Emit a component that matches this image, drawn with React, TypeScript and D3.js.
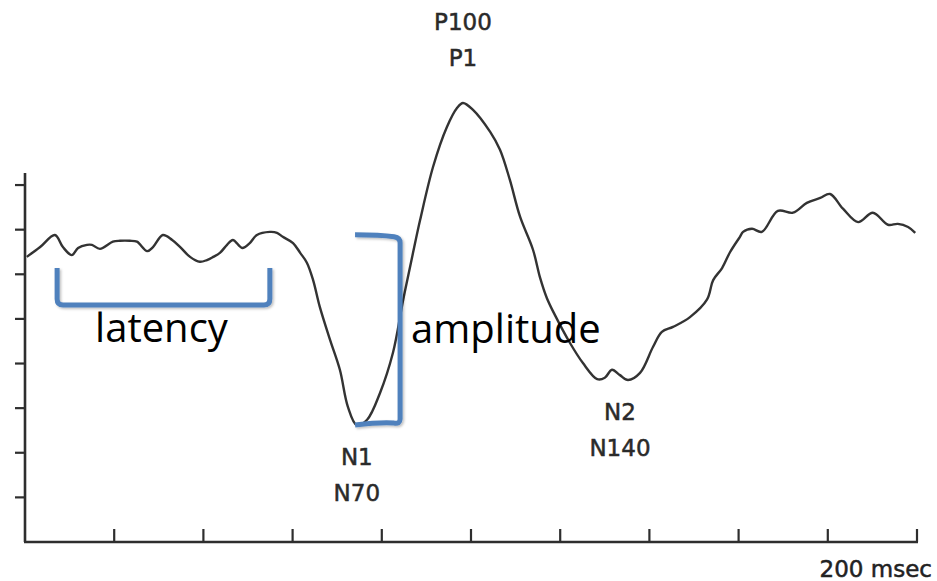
import React, { useCallback, useEffect, useRef } from 'react';
import * as d3 from 'd3';

// trace: time in msec, amplitude in arbitrary units
const timeMs = [
  0.4, 3.4, 6.7, 8.5, 10.5, 11.9, 13.9, 15.0, 16.8, 19.7, 21.3, 23.5, 25.1, 27.4, 28.7, 30.9,
  33.0, 34.8, 37.0, 39.2, 40.8, 42.2, 43.7, 45.3, 46.6, 48.7, 50.4, 52.0, 54.9, 56.5, 57.8,
  60.1, 61.7, 63.2, 64.6, 66.1, 68.4, 70.6, 72.4, 74.4, 76.7, 79.6, 82.5, 84.8, 87.0, 88.6,
  91.5, 94.6, 96.9, 98.2, 100.4, 104.3, 106.5, 108.7, 111.0, 113.9, 115.5, 117.0, 118.8,
  122.2, 125.1, 128.3, 130.0, 131.6, 133.4, 135.2, 137.9, 140.8, 142.8, 145.3, 149.1, 152.9,
  154.3, 156.3, 158.1, 160.3, 161.0, 163.0, 165.2, 168.8, 172.2, 175.3, 178.3, 180.5, 183.4,
  186.8, 190.1, 193.5, 195.7, 198.0, 199.6,
];
const amplitude = [
  6.39, 6.61, 6.88, 6.61, 6.43, 6.59, 6.66, 6.66, 6.57, 6.73, 6.75, 6.75, 6.73, 6.52, 6.61, 6.88,
  6.77, 6.61, 6.39, 6.28, 6.32, 6.39, 6.48, 6.66, 6.77, 6.59, 6.70, 6.88, 6.95, 6.93, 6.84,
  6.70, 6.48, 6.26, 5.87, 5.27, 4.53, 3.86, 3.03, 2.62, 2.74, 3.34, 4.24, 5.43, 6.48, 7.22,
  8.41, 9.30, 9.73, 9.84, 9.69, 9.19, 8.79, 8.12, 7.29, 6.55, 5.92, 5.47, 5.09,
  4.46, 4.01, 3.65, 3.68, 3.86, 3.74, 3.63, 3.79, 4.37, 4.71, 4.82, 5.04, 5.43,
  5.87, 6.14, 6.50, 6.84, 6.95, 7.02, 6.95, 7.42, 7.38, 7.60, 7.71, 7.80, 7.47,
  7.17, 7.38, 7.11, 7.13, 7.06, 6.93,
];

const xTicks = [20, 40, 60, 80, 100, 120, 140, 160, 180, 200];
const yTicks = [1, 2, 3, 4, 5, 6, 7, 8];

// peak labels: [time, amplitude, line1, line2, side]
const peakLabels: [number, number, string, string, string][] = [
  [98.2, 9.84, 'P100', 'P1', 'above'],
  [74.4, 2.62, 'N1', 'N70', 'below'],
  [133.4, 3.63, 'N2', 'N140', 'below'],
];

// brackets: [t0, t1, a0, a1]
const latencyBracket = [7.2, 54.9, 6.14, 5.31];
const amplitudeBracket = [74.0, 84.1, 6.84, 2.62];

const ErpChart = () => {
  const svgRef = useRef<SVGSVGElement>(null);

  const drawChart = useCallback(() => {
    const svg = d3.select(svgRef.current);
    const axisColor = '#2e2e2e';
    const blue = '#4f81bd';

    const x = d3.scaleLinear().domain([0, 200]).range([25, 917]);
    const y = d3.scaleLinear().domain([0, 8.27]).range([542, 173]);

    // axes
    svg.append('line').attr('x1', x(0)).attr('x2', x(0)).attr('y1', y(8.27)).attr('y2', y(0))
      .attr('stroke', axisColor).attr('stroke-width', 2.6);
    svg.append('line').attr('x1', x(0) - 1).attr('x2', x(200) + 1).attr('y1', y(0)).attr('y2', y(0))
      .attr('stroke', axisColor).attr('stroke-width', 2.6);

    svg.selectAll('.ytick').data(yTicks).enter().append('line')
      .attr('class', 'ytick')
      .attr('x1', x(0) - 10).attr('x2', x(0))
      .attr('y1', (d) => y(d)).attr('y2', (d) => y(d))
      .attr('stroke', axisColor).attr('stroke-width', 2.2);

    svg.selectAll('.xtick').data(xTicks).enter().append('line')
      .attr('class', 'xtick')
      .attr('x1', (d) => x(d)).attr('x2', (d) => x(d))
      .attr('y1', y(0) - 13).attr('y2', y(0))
      .attr('stroke', axisColor).attr('stroke-width', 2.2);

    svg.append('text')
      .attr('x', 932).attr('y', 577)
      .attr('text-anchor', 'end')
      .attr('font-family', 'DejaVu Sans')
      .attr('font-size', 23)
      .attr('fill', '#222')
      .attr('stroke', '#222').attr('stroke-width', 0.5)
      .text('200 msec');

    // waveform
    const pts = timeMs.map((t, i) => [t, amplitude[i]] as [number, number]);
    const line = d3.line<[number, number]>()
      .x((d) => x(d[0]))
      .y((d) => y(d[1]))
      .curve(d3.curveCatmullRom.alpha(0.5));
    svg.append('path').datum(pts)
      .attr('d', line)
      .attr('fill', 'none')
      .attr('stroke', '#333')
      .attr('stroke-width', 2.4)
      .attr('stroke-linejoin', 'round');

    // peak labels
    peakLabels.forEach(([t, a, l1, l2, pos]) => {
      const cx = x(t);
      const base = pos === 'above' ? y(a) - 73 : y(a) + 40;
      [l1, l2].forEach((s, i) => {
        svg.append('text')
          .attr('x', cx).attr('y', base + i * 36)
          .attr('text-anchor', 'middle')
          .attr('font-family', 'DejaVu Sans')
          .attr('font-size', 23)
          .attr('fill', '#2a2a2a')
          .attr('stroke', '#2a2a2a').attr('stroke-width', 0.5)
          .text(s);
      });
    });

    // shadow for the blue brackets
    const defs = svg.append('defs');
    const f = defs.append('filter').attr('id', 'shadow').attr('x', '-20%').attr('y', '-20%')
      .attr('width', '140%').attr('height', '140%');
    f.append('feDropShadow').attr('dx', 1.5).attr('dy', 1.5).attr('stdDeviation', 1.2)
      .attr('flood-color', '#000').attr('flood-opacity', 0.25);

    const r = 6;
    const [lt0, lt1, la0, la1] = latencyBracket;
    const lx0 = x(lt0), lx1 = x(lt1), ly0 = y(la0), ly1 = y(la1);
    svg.append('path')
      .attr('d', `M${lx0},${ly0} V${ly1 - r} Q${lx0},${ly1} ${lx0 + r},${ly1} H${lx1 - r} Q${lx1},${ly1} ${lx1},${ly1 - r} V${ly0}`)
      .attr('fill', 'none').attr('stroke', blue).attr('stroke-width', 5)
      .attr('filter', 'url(#shadow)');

    const [at0, at1, aa0, aa1] = amplitudeBracket;
    const ax0 = x(at0), ax1 = x(at1), ay0 = y(aa0), ay1 = y(aa1);
    svg.append('path')
      .attr('d', `M${ax0},${ay0 - 2} Q${ax1 - 20},${ay0 - 2} ${ax1 - r},${ay0} Q${ax1},${ay0 + 1} ${ax1},${ay0 + r} V${ay1 - r} Q${ax1},${ay1 - 1} ${ax1 - r},${ay1 - 2} Q${ax1 - 20},${ay1 - 3} ${ax0},${ay1}`)
      .attr('fill', 'none').attr('stroke', blue).attr('stroke-width', 5)
      .attr('filter', 'url(#shadow)');

    svg.append('text')
      .attr('x', (lx0 + lx1) / 2 - 2).attr('y', 342)
      .attr('text-anchor', 'middle')
      .attr('font-family', 'Open Sans')
      .attr('font-size', 40)
      .attr('fill', '#000')
      .text('latency');

    svg.append('text')
      .attr('x', ax1 + 11).attr('y', 343)
      .attr('font-family', 'Open Sans')
      .attr('font-size', 40)
      .attr('fill', '#000')
      .text('amplitude');
  }, []);

  useEffect(() => {
    drawChart();
    return () => {
      d3.select(svgRef.current).selectAll('*').remove();
    };
  }, [drawChart]);

  return (
    <svg
      ref={svgRef}
      width={937}
      height={581}
      style={{ position: 'absolute', left: 0, top: 0, background: '#fff' }}
    />
  );
};

export default function App() {
  return <ErpChart />;
}
